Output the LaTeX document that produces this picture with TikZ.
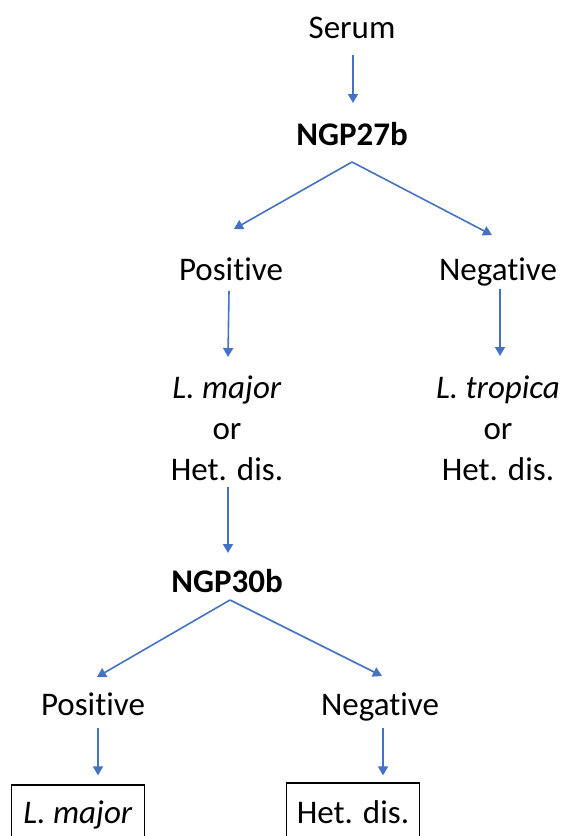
\documentclass[tikz,border=0pt]{standalone}
\usepackage{fontspec}
\setmainfont[Ligatures=NoCommon]{Carlito}
\usetikzlibrary{arrows.meta,calc}
\definecolor{arrblue}{RGB}{68,114,196}
\begin{document}
\begin{tikzpicture}[x=1pt,y=-1pt,
  lbl/.style={font=\fontsize{33}{41}\selectfont, inner sep=0pt, anchor=base, align=center},
  arr/.style={draw=arrblue, line width=1.6pt, -{Triangle[length=9pt,width=10pt]}},
  resbox/.style={font=\fontsize{33}{41}\selectfont, anchor=base, draw=black, line width=1.2pt,
     minimum width=133pt, text height=21pt, text depth=30pt, inner xsep=0pt, inner ysep=17pt}]
\useasboundingbox (0,0) rectangle (566,836);
\clip (0,0) rectangle (566,836);

\node[lbl] (serum) at (352,38) {Serum};
\node[lbl] (ngp27) at (352,145) {\textbf{NGP27b}};
\node[lbl] (pos1) at (231,280) {Positive};
\node[lbl] (neg1) at (498,280) {Negative};
\node[lbl] (res1) at (227,480) {\textit{L. major}\\or\\Het. dis.};
\node[lbl] (res2) at (498,480) {\textit{L. tropica}\\or\\Het. dis.};
\node[lbl] (ngp30) at (227,592) {\textbf{NGP30b}};
\node[lbl] (pos2) at (93,715) {Positive};
\node[lbl] (neg2) at (380,715) {Negative};
\node[resbox] (box1) at (78,823) {\textit{L. major}};
\node[resbox, inner ysep=19pt] (box2) at (353,823) {Het. dis.};

\draw[arr] ($(serum.base)+(1,17)$) -- ($(ngp27.base)+(1,-42)$);
\draw[arr] ($(ngp27.base)+(0,17)$) -- ($(pos1.base)+(3,-51)$);
\draw[arr] ($(ngp27.base)+(0,17)$) -- ($(neg1.base)+(-6,-45)$);
\draw[arr] ($(pos1.base)+(-2,11)$) -- ($(res1.base)+(1,-123)$);
\draw[arr] ($(neg1.base)+(2,9)$) -- ($(res2.base)+(2,-124)$);
\draw[arr] ($(res1.base)+(1,7)$) -- ($(ngp30.base)+(1,-39)$);
\draw[arr] ($(ngp30.base)+(3,8)$) -- ($(pos2.base)+(4,-38)$);
\draw[arr] ($(ngp30.base)+(3,8)$) -- ($(neg2.base)+(2,-39)$);
\draw[arr] ($(pos2.base)+(5,13)$) -- ($(box1.north)+(20,-9)$);
\draw[arr] ($(neg2.base)+(3,13)$) -- ($(box2.north)+(30,-7)$);
\end{tikzpicture}
\end{document}
